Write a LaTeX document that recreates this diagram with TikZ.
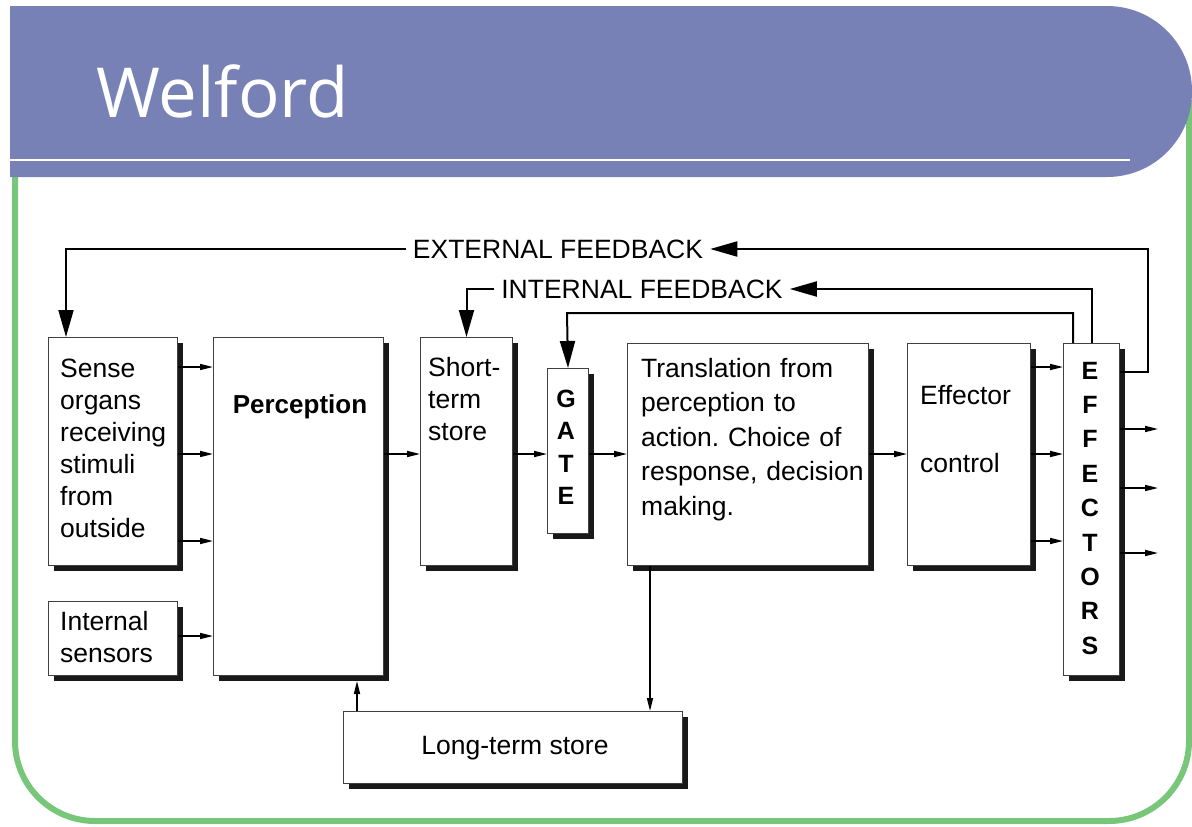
\documentclass[tikz,border=0pt]{standalone}
\usepackage{fontspec}
\setmainfont{Liberation Sans}
\newfontfamily\titlefont{Open Sans}
\usetikzlibrary{arrows.meta,shadows}
\frenchspacing

\definecolor{headblue}{RGB}{119,129,182}
\definecolor{framegreen}{RGB}{120,198,122}

\tikzset{
  blk/.style={draw=black!75, line width=1pt, fill=white, anchor=north west, inner sep=0pt,
    drop shadow={shadow xshift=5pt, shadow yshift=-5pt, fill=black!90, opacity=1}},
  txt/.style={anchor=base west, align=left, inner sep=0pt, text width=240pt,
    font=\fontsize{26.5}{32}\selectfont},
  caps/.style={anchor=base, align=center, inner sep=0pt, text width=30pt,
    font=\bfseries\fontsize{25}{34.4}\selectfont},
  fblbl/.style={inner xsep=7pt, inner ysep=0pt, font=\fontsize{26.5}{28}\selectfont},
  flow/.style={-{Triangle[length=13pt,width=6pt]}, line width=1.5pt},
  fb/.style={-{Triangle[length=27pt,width=15pt]}, line width=2pt},
}

\begin{document}
\begin{tikzpicture}[x=1pt,y=-1pt]
\useasboundingbox (0,0) rectangle (1192,827);

% slide frame and header
\draw[framegreen, line width=6pt, rounded corners=80pt]
    (15,150) -- (15,821) -- (1189,821) -- (1189,100);
\fill[headblue] (10,6) [rounded corners=85pt] -- (1192,6) -- (1192,177) [sharp corners] -- (10,177) -- cycle;
\draw[white, line width=2pt] (10,160) -- (1130,160);
\node[anchor=base west, inner sep=0pt, text=white, font=\titlefont\fontsize{69}{72}\selectfont]
    (title) at (96,117) {Welford};

% boxes
\node[blk, minimum width=129pt, minimum height=228pt] (sense) at (48,337) {};
\node[blk, minimum width=129pt, minimum height=74pt] (intsens) at (48,601) {};
\node[blk, minimum width=170pt, minimum height=338pt] (perc) at (213,337) {};
\node[blk, minimum width=92pt, minimum height=228pt] (sts) at (420,337) {};
\node[blk, minimum width=41pt, minimum height=165pt] (gate) at (547,368) {};
\node[blk, minimum width=241pt, minimum height=222pt] (trans) at (627,343) {};
\node[blk, minimum width=123pt, minimum height=222pt] (effc) at (907,343) {};
\node[blk, minimum width=56pt, minimum height=332pt] (effs) at (1063,343) {};
\node[blk, minimum width=339pt, minimum height=72pt] (ltm) at (343,711) {};

% texts
\node[txt] (sense-t) at (60,377) {Sense\\organs\\receiving\\stimuli\\from\\outside};
\node[txt] (intsens-t) at (60,630) {Internal\\sensors};
\node[anchor=base, inner sep=0pt, font=\bfseries\fontsize{26}{32}\selectfont]
    (perc-t) at (300,413) {Perception};
\node[txt] (sts-t) at (428,376) {Short-\\term\\store};
\node[caps, font=\bfseries\fontsize{25}{32.5}\selectfont] (gate-t) at (566,407) {G\\A\\T\\E};
\node[txt, font=\fontsize{26.5}{34.5}\selectfont] (trans-t) at (641,377)
    {Translation from\\perception to\\action. Choice of\\response, decision\\making.};
\node[txt, font=\fontsize{26.5}{34}\selectfont] (effc-t) at (920,404) {Effector\\[34pt]control};
\node[caps] (effs-t) at (1090,379) {E\\F\\F\\E\\C\\T\\O\\R\\S};
\node[anchor=base, inner sep=0pt, font=\fontsize{26.5}{32}\selectfont]
    (ltm-t) at (515,754) {Long-term store};

% feedback labels
\node[fblbl] (ext) at (558,249) {EXTERNAL FEEDBACK};
\node[fblbl] (int) at (642,289) {INTERNAL FEEDBACK};

% forward flow
\foreach \y in {367,454,541}
    \draw[flow] (sense.east |- 0,\y) -- (perc.west |- 0,\y);
\draw[flow] (intsens.east |- 0,636) -- (perc.west |- 0,636);
\draw[flow] (perc.east |- 0,454) -- (sts.west |- 0,454);
\draw[flow] (sts.east |- 0,454) -- (gate.west |- 0,454);
\draw[flow] (gate.east |- 0,454) -- (trans.west |- 0,454);
\draw[flow] (trans.east |- 0,454) -- (effc.west |- 0,454);
\foreach \y in {367,454,541}
    \draw[flow] (effc.east |- 0,\y) -- (effs.west |- 0,\y);
\foreach \y in {429,488,553}
    \draw[flow] (effs.east |- 0,\y) -- (1158,\y);

% long-term store
\draw[flow] (trans.south -| 650,0) -- (ltm.north -| 650,0);
\draw[flow, shorten >=5pt] (ltm.north -| 357,0) -- (perc.south -| 357,0);

% feedback loops
\draw[fb] (effs.east |- 0,372) -| (1148,249) -- (ext.east);
\draw[fb] (ext.west) -| (sense.north -| 66,0);
\draw[fb] (effs.north -| 1092,0) |- (int.east);
\draw[fb] (int.west) -| (sts.north);
\draw[fb] (effs.north -| 1073,0) |- (567,313) -- (gate.north);
\end{tikzpicture}
\end{document}
